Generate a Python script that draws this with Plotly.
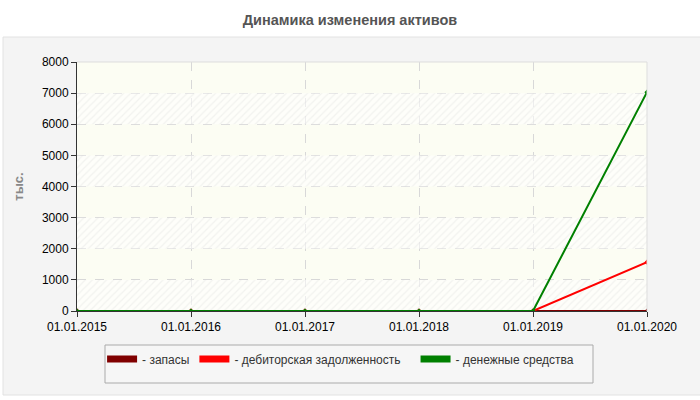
import plotly.graph_objects as go

# data
dates = ["01.01.2015", "01.01.2016", "01.01.2017", "01.01.2018", "01.01.2019", "01.01.2020"]
zapasy = [0, 0, 0, 0, 0, 0]
debitorka = [0, 0, 0, 0, 0, 1570]
dengi = [0, 0, 0, 0, 0, 7030]

series = [
    ("- запасы", zapasy, "#800000"),
    ("- дебиторская задолженность\u00a0\u00a0\u00a0", debitorka, "#ff0000"),
    ("- денежные средства", dengi, "#008000"),
]

# hatched background bands (every other 1000 step)
band_bases = [0, 2000, 4000, 6000]
band_step = 1000

fig = go.Figure()
fig.add_trace(go.Bar(
    x=[dates[0]] * len(band_bases), y=[band_step] * len(band_bases), base=band_bases,
    width=len(dates) - 1, offset=0, showlegend=False, hoverinfo="skip",
    marker=dict(color="rgba(255,255,255,0.55)", line=dict(width=0),
                pattern=dict(shape="/", size=5, solidity=0.25,
                             fgcolor="rgba(215,215,215,0.6)",
                             bgcolor="rgba(255,255,255,0.55)")),
))
for name, vals, color in series:
    fig.add_trace(go.Scatter(
        x=dates, y=vals, name=name, mode="lines+markers", showlegend=False,
        line=dict(color=color, width=2),
        marker=dict(symbol="diamond", size=4, color=color),
    ))
# legend swatches (thick blocks like the original)
for name, vals, color in series:
    fig.add_trace(go.Scatter(
        x=[None], y=[None], name=name, mode="lines",
        line=dict(color=color, width=7),
    ))

fig.update_layout(
    width=700, height=400,
    margin=dict(l=77, r=53, t=62, b=89),
    paper_bgcolor="white",
    plot_bgcolor="#fcfdf3",
    barmode="overlay",
    font=dict(family="Liberation Sans, Arial", size=12, color="#000"),
    title=dict(text="<b>Динамика изменения активов</b>", x=0.5, xanchor="center",
               y=0.95, yanchor="middle", font=dict(size=14.5, color="#555")),
    showlegend=True,
    legend=dict(orientation="h", x=0.044, y=-0.135, xanchor="left", yanchor="top",
                bgcolor="rgba(0,0,0,0)", font=dict(size=12, color="#333"),
                traceorder="normal", itemwidth=30),
    shapes=[
        # outer panel
        dict(type="rect", xref="paper", yref="paper", layer="below",
             x0=-74 / 570, x1=646 / 570, y0=-84 / 249, y1=274 / 249,
             fillcolor="#f4f4f4", line=dict(color="#e2e2e2", width=1)),
        # plot area background
        dict(type="rect", xref="paper", yref="paper", layer="below",
             x0=0, x1=1, y0=0, y1=1,
             fillcolor="#fcfdf3", line=dict(width=0)),
        # legend box
        dict(type="rect", xref="paper", yref="paper", layer="below",
             x0=28 / 570, x1=516 / 570, y0=-72 / 249, y1=-34 / 249,
             fillcolor="#f6f6f6", line=dict(color="#aaa", width=1)),
    ],
)

fig.update_xaxes(
    type="category", range=[0, 5], showgrid=True, gridcolor="#d8d8d8", griddash="dash",
    showline=True, linecolor="#333", linewidth=1, mirror=False,
    ticks="outside", ticklen=5, tickcolor="#333", zeroline=False,
)
fig.update_yaxes(
    range=[0, 8000], dtick=1000, showgrid=True, gridcolor="#d8d8d8", griddash="dash",
    showline=True, linecolor="#333", linewidth=1,
    ticks="outside", ticklen=5, tickcolor="#333", zeroline=False,
    title=dict(text="<b>тыс.</b>", font=dict(size=13, color="#888"), standoff=15),
)

# light border on the top and right of the plot area
fig.add_shape(type="line", xref="paper", yref="paper", x0=0, x1=1, y0=1, y1=1,
              line=dict(color="#ddd", width=1))
fig.add_shape(type="line", xref="paper", yref="paper", x0=1, x1=1, y0=0, y1=1,
              line=dict(color="#ddd", width=1))

# drop the default page margin so the figure sits at the top-left corner
fig.write_html("out.html", config={"displayModeBar": False},
               post_script="document.body.style.margin='0';")
